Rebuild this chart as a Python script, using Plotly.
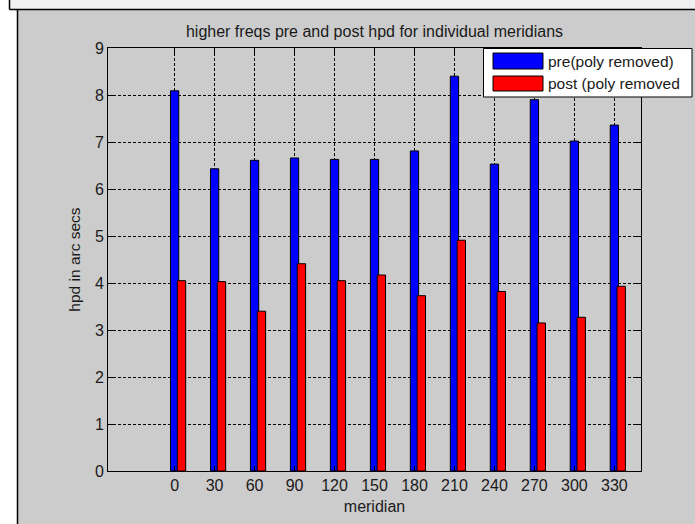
import plotly.graph_objects as go

# Meridians (degrees) and high-frequency hpd values (arc seconds)
meridians = [0, 30, 60, 90, 120, 150, 180, 210, 240, 270, 300, 330]
pre_vals = [8.09, 6.43, 6.61, 6.66, 6.63, 6.63, 6.81, 8.40, 6.53, 7.90, 7.02, 7.36]
post_vals = [4.05, 4.03, 3.40, 4.41, 4.05, 4.17, 3.73, 4.91, 3.82, 3.15, 3.27, 3.93]
y_ticks = [0, 1, 2, 3, 4, 5, 6, 7, 8, 9]
series_names = ["pre(poly removed)", "post (poly removed"]
series_colors = ["#0000ff", "#ff0000"]
chart_title = "higher freqs pre and post hpd for individual meridians"
x_title = "meridian"
y_title = "hpd in arc secs"

W, H = 695, 524
L, R, T, B = 108, 54, 48, 53
PW, PH = W - L - R, H - T - B
FONT = "Liberation Sans, Arial, sans-serif"
TXT = "#1a1a1a"


def px(x):
    return (x - L) / PW


def py(y):
    return (H - B - y) / PH


fig = go.Figure()
fig.add_trace(go.Bar(
    x=meridians, y=pre_vals, name=series_names[0],
    width=6.2, offset=-3.1,
    marker=dict(color=series_colors[0], line=dict(color="black", width=1)),
    showlegend=False,
))
fig.add_trace(go.Bar(
    x=meridians, y=post_vals, name=series_names[1],
    width=6.3, offset=2.0,
    marker=dict(color=series_colors[1], line=dict(color="black", width=1)),
    showlegend=False,
))

shapes = [
    # window chrome around the figure
    dict(type="rect", xref="paper", yref="paper", x0=px(0), x1=px(W), y0=py(H), y1=py(0),
         fillcolor="white", line=dict(width=0), layer="below"),
    dict(type="rect", xref="paper", yref="paper", x0=px(9.5), x1=px(W), y0=py(9.5), y1=py(0),
         fillcolor="#f0f0f0", line=dict(width=0), layer="below"),
    dict(type="rect", xref="paper", yref="paper", x0=px(17.5), x1=px(W), y0=py(H), y1=py(9.5),
         fillcolor="#cccccc", line=dict(width=0), layer="below"),
    dict(type="line", xref="paper", yref="paper", x0=px(9.5), x1=px(W), y0=py(9.5), y1=py(9.5),
         line=dict(color="black", width=1.5)),
    dict(type="line", xref="paper", yref="paper", x0=px(9.5), x1=px(9.5), y0=py(0), y1=py(9.5),
         line=dict(color="black", width=1.5)),
    dict(type="line", xref="paper", yref="paper", x0=px(17.5), x1=px(17.5), y0=py(9.5), y1=py(H),
         line=dict(color="black", width=1.5)),
    # legend box
    dict(type="rect", xref="paper", yref="paper", x0=px(483.5), x1=px(692), y0=py(97), y1=py(48.5),
         fillcolor="white", line=dict(color="black", width=1)),
]
annotations = []
sw_y = [(53, 69), (76, 91)]
for i, name in enumerate(series_names):
    y0, y1 = sw_y[i]
    shapes.append(dict(type="rect", xref="paper", yref="paper", x0=px(493), x1=px(543),
                       y0=py(y1), y1=py(y0), fillcolor=series_colors[i],
                       line=dict(color="black", width=1)))
    annotations.append(dict(xref="paper", yref="paper", x=px(546), y=py((y0 + y1) / 2),
                            text=name, showarrow=False, xanchor="left", yanchor="middle",
                            font=dict(family=FONT, size=15.5, color=TXT)))

fig.update_layout(
    width=W, height=H,
    margin=dict(l=L, r=R, t=T, b=B, pad=0),
    paper_bgcolor="#cccccc",
    plot_bgcolor="white",
    barmode="overlay",
    title=dict(text=chart_title, x=(L + PW / 2) / W, xanchor="center",
               y=1 - 31 / H, yanchor="middle",
               font=dict(family=FONT, size=16, color=TXT)),
    shapes=shapes,
    annotations=annotations,
    font=dict(family=FONT, size=16, color=TXT),
)
fig.update_xaxes(
    range=[-50, 350], tickvals=meridians, ticktext=[str(m) for m in meridians],
    showline=True, linecolor="black", linewidth=1, mirror="ticks",
    ticks="inside", ticklen=5, tickcolor="black",
    showgrid=True, gridcolor="black", gridwidth=1, griddash="3px,2px",
    zeroline=False,
    tickfont=dict(family=FONT, size=16, color=TXT),
    title=dict(text=x_title, standoff=7, font=dict(family=FONT, size=16, color=TXT)),
)
fig.update_yaxes(
    range=[0, 9], tickvals=y_ticks,
    showline=True, linecolor="black", linewidth=1, mirror="ticks",
    ticks="inside", ticklen=5, tickcolor="black",
    showgrid=True, gridcolor="black", gridwidth=1, griddash="3px,2px",
    zeroline=False,
    tickfont=dict(family=FONT, size=16, color=TXT),
    title=dict(text=y_title, standoff=10, font=dict(family=FONT, size=15.5, color=TXT)),
)

fig.write_html("out.html")
